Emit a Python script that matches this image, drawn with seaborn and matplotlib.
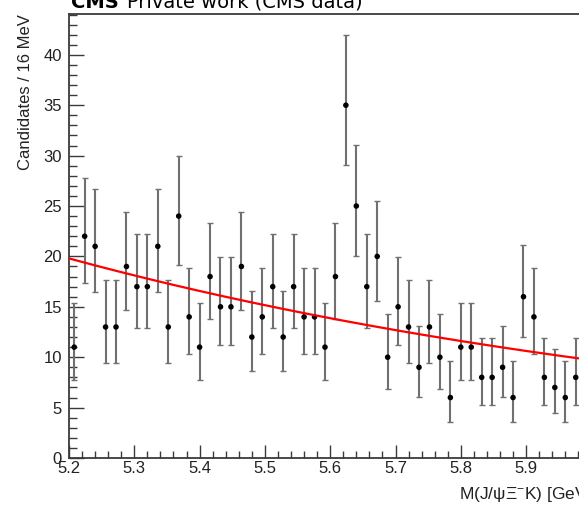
import math
import numpy as np
import pandas as pd
import matplotlib
matplotlib.use("Agg")
import matplotlib.pyplot as plt
from matplotlib.ticker import MultipleLocator
import seaborn as sns

# Binned candidate counts, 16 MeV bins starting at 5.2 GeV
bin_low = 5.2
bin_width = 0.016
counts = [11, 22, 21, 13, 13, 19, 17, 17, 21, 13,
          24, 14, 11, 18, 15, 15, 19, 12, 14, 17,
          12, 17, 14, 14, 11, 18, 35, 25, 17, 20,
          10, 15, 13, 9, 13, 10, 6, 11, 11, 8,
          8, 9, 6, 16, 14, 8, 7, 6, 8]

# Background fit: exponential N(m) = fit_norm * exp(fit_slope * (m - 5.2))
fit_norm = 19.8
fit_slope = -0.89

x_range = (5.2, 6.0)
y_range = (0.0, 44.05)
x_label = "M(J/ψΞ$^{-}$K) [GeV]"
y_label = "Candidates / 16 MeV"


def poisson_cdf(k, mu):
    if k < 0:
        return 0.0
    return sum(math.exp(-mu + i * math.log(mu) - math.lgamma(i + 1)) if mu > 0 else (1.0 if i == 0 else 0.0)
               for i in range(k + 1))


def solve(f, lo, hi, target, decreasing=True):
    for _ in range(200):
        mid = 0.5 * (lo + hi)
        val = f(mid)
        if (val > target) == decreasing:
            lo = mid
        else:
            hi = mid
    return 0.5 * (lo + hi)


def poisson_interval(n, cl=0.682689):
    """Central (Garwood) Poisson interval for an observed count n."""
    a = 0.5 * (1 - cl)
    if n == 0:
        lower = 0.0
    else:
        lower = solve(lambda mu: 1 - poisson_cdf(n - 1, mu), 0.0, n + 50, a, decreasing=False)
    upper = solve(lambda mu: poisson_cdf(n, mu), n, n + 60, a, decreasing=True)
    return lower, upper


centers = bin_low + bin_width * (np.arange(len(counts)) + 0.5)
df = pd.DataFrame({"mass": centers, "counts": counts})
intervals = [poisson_interval(n) for n in counts]
df["err_lo"] = [n - lo for n, (lo, hi) in zip(counts, intervals)]
df["err_hi"] = [hi - n for n, (lo, hi) in zip(counts, intervals)]

m_grid = np.linspace(x_range[0], x_range[1], 400)
fit_df = pd.DataFrame({"mass": m_grid, "fit": fit_norm * np.exp(fit_slope * (m_grid - x_range[0]))})

sns.set_theme(style="white")
plt.rcParams["font.family"] = ["Liberation Sans", "DejaVu Sans"]
plt.rcParams["mathtext.fontset"] = "custom"
plt.rcParams["mathtext.rm"] = "Liberation Sans"
plt.rcParams["mathtext.it"] = "Liberation Sans"
plt.rcParams["mathtext.default"] = "regular"

W, H = 579, 508
fig = plt.figure(figsize=(W / 100, H / 100), dpi=100)
fig.patch.set_facecolor("white")
ax = fig.add_axes([69 / W, 50 / H, 522.4 / W, 444 / H])
ax.set_facecolor("white")

ax.errorbar(df["mass"], df["counts"], yerr=[df["err_lo"], df["err_hi"]],
            fmt="none", ecolor="#707070", elinewidth=1.5, capsize=2.0, capthick=1.0, zorder=2)
sns.scatterplot(data=df, x="mass", y="counts", color="black", s=16,
                edgecolor="none", ax=ax, zorder=3)
sns.lineplot(data=fit_df, x="mass", y="fit", color="#ff0000", linewidth=1.6, ax=ax, zorder=4)

ax.set_xlim(*x_range)
ax.set_ylim(*y_range)

ax.xaxis.set_major_locator(MultipleLocator(0.1))
ax.xaxis.set_minor_locator(MultipleLocator(0.02))
ax.yaxis.set_major_locator(MultipleLocator(5))
ax.yaxis.set_minor_locator(MultipleLocator(1))
ax.xaxis.set_major_formatter(matplotlib.ticker.FormatStrFormatter("%.1f"))

axis_color = "#3a3a3a"
ax.tick_params(axis="x", which="major", direction="in", length=9.5, width=1.0,
               color=axis_color, labelsize=12, pad=2, labelcolor="#222222",
               bottom=True, top=False)
ax.tick_params(axis="x", which="minor", direction="in", length=5, width=1.0,
               color=axis_color, bottom=True, top=False)
ax.tick_params(axis="y", which="major", direction="in", length=11, width=1.0,
               color=axis_color, labelsize=12, pad=5, labelcolor="#222222",
               left=True, right=False)
ax.tick_params(axis="y", which="minor", direction="in", length=5.8, width=1.0,
               color=axis_color, left=True, right=False)

for side in ["left", "bottom", "top", "right"]:
    ax.spines[side].set_visible(True)
    ax.spines[side].set_color(axis_color)
    ax.spines[side].set_linewidth(1.3)

ax.set_xlabel(x_label, fontsize=12.5, color="#222222", loc="right")
ax.xaxis.set_label_coords(1.0, -27 / 444)
ax.set_ylabel(y_label, fontsize=12, color="#222222", loc="top")
ax.yaxis.set_label_coords(-36 / 522.4, 1.0)

fig.text(71 / W, (H - 8) / H, "CMS", fontsize=14, fontweight="bold",
         family=["DejaVu Sans"], color="black", va="baseline", ha="left")
fig.text(127 / W, (H - 8) / H, "Private work (CMS data)", fontsize=14,
         family=["DejaVu Sans"], color="black", va="baseline", ha="left")

fig.savefig("out.png", dpi=100, facecolor="white")
